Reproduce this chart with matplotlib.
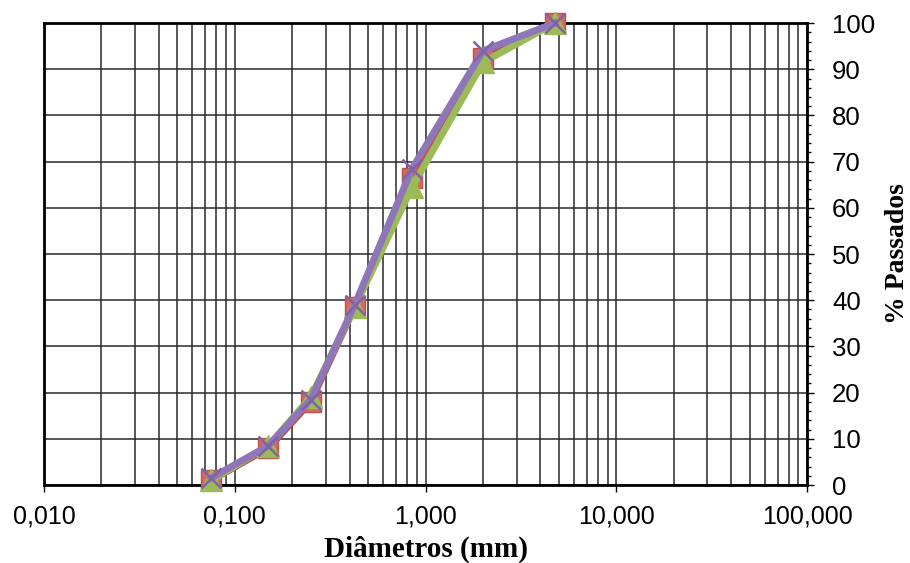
import numpy as np
import matplotlib
matplotlib.use("Agg")
import matplotlib.pyplot as plt
from matplotlib.ticker import FixedLocator, FuncFormatter, MultipleLocator

# sieve openings (mm) and % passing for each sample
diametros = [0.075, 0.15, 0.25, 0.425, 0.85, 2.0, 4.75]
amostra_1 = [1.0, 8.0, 18.0, 38.5, 66.5, 92.5, 100.0]
amostra_2 = [1.0, 8.5, 19.0, 38.5, 64.5, 91.5, 100.0]
amostra_3 = [1.5, 8.5, 18.5, 39.0, 68.5, 94.0, 100.0]

x_ticks = [0.01, 0.1, 1, 10, 100]
y_ticks = list(range(0, 101, 10))


def br_fmt(v, p):
    # 0.01 -> "0,010", 10 -> "10,000"
    return f"{v:.3f}".replace(".", ",")


fig = plt.figure(figsize=(9.1, 5.63), dpi=100)
ax = fig.add_axes([0.0484, 0.1385, 0.8385, 0.8205])

# Excel-like series: line + marker
ax.plot(diametros, amostra_1, color="#C0504D", lw=5, marker="s", ms=15,
        mfc="#D5685F", mec="#C0504D", zorder=3, clip_on=False)
ax.plot(diametros, amostra_2, color="#9BBB59", lw=5, marker="^", ms=16,
        mfc="#9BBB59", mec="#9BBB59", zorder=4, clip_on=False)
ax.plot(diametros, amostra_3, color="#8F76B8", lw=5, marker="x", ms=14,
        mew=1.8, mec="#8064A2", zorder=5, clip_on=False)

ax.set_xscale("log")
ax.set_xlim(0.01, 100)
ax.set_ylim(0, 100)

# grid: every decade subdivision and every 10 %
minors = [m * 10.0 ** e for e in range(-2, 2) for m in range(2, 10)]
ax.xaxis.set_major_locator(FixedLocator(x_ticks))
ax.xaxis.set_minor_locator(FixedLocator(minors))
ax.xaxis.set_major_formatter(FuncFormatter(br_fmt))
ax.xaxis.set_minor_formatter(FuncFormatter(lambda v, p: ""))
ax.grid(True, which="both", axis="x", color="#2a2a2a", lw=1.1)
ax.grid(True, which="major", axis="y", color="#2a2a2a", lw=1.1)
ax.set_axisbelow(True)

ax.yaxis.tick_right()
ax.yaxis.set_label_position("right")
ax.yaxis.set_major_locator(FixedLocator(y_ticks))
ax.yaxis.set_minor_locator(MultipleLocator(2))

ax.tick_params(axis="x", which="major", direction="out", length=5, width=1,
               labelsize=18, pad=9)
ax.tick_params(axis="x", which="minor", length=0)
ax.tick_params(axis="y", which="major", direction="out", length=5, width=1,
               labelsize=18.5, pad=13)
ax.tick_params(axis="y", which="minor", direction="out", length=3, width=1)
for lab in ax.get_xticklabels() + ax.get_yticklabels():
    lab.set_fontfamily("Liberation Sans")

for sp in ax.spines.values():
    sp.set_color("black")
    sp.set_linewidth(2)

ax.set_xlabel("Diâmetros (mm)", fontfamily="Liberation Serif",
              fontweight="bold", fontsize=21, labelpad=5)
ax.set_ylabel("% Passados", fontfamily="Liberation Serif",
              fontweight="bold", fontsize=20, labelpad=7)

fig.savefig("out.png", dpi=100)
